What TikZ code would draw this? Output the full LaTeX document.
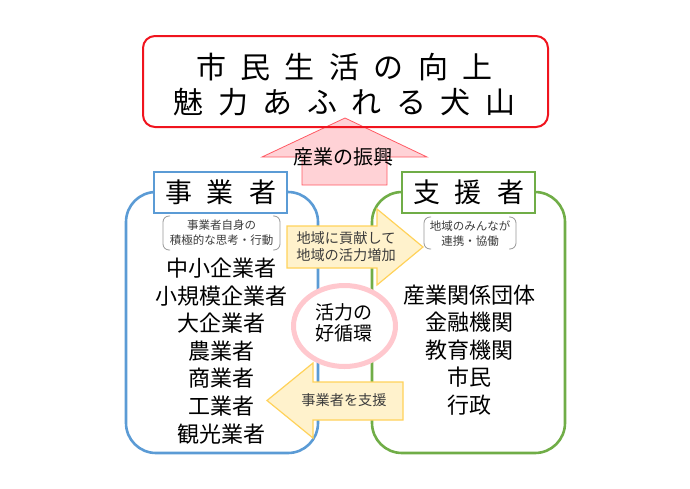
\documentclass[tikz,border=0pt]{standalone}
\usepackage{fontspec}
\setmainfont{Noto Sans CJK JP}
\usetikzlibrary{shapes.geometric}
\definecolor{tred}{RGB}{240,20,30}
\definecolor{pinkfill}{RGB}{255,210,214}
\definecolor{pinkline}{RGB}{255,90,100}
\definecolor{ringpink}{RGB}{255,200,206}
\definecolor{jblue}{RGB}{91,155,213}
\definecolor{sgreen}{RGB}{112,173,71}
\definecolor{yfill}{RGB}{255,242,204}
\definecolor{yline}{RGB}{255,210,90}
\definecolor{bracketgray}{RGB}{150,150,150}
\definecolor{softtext}{RGB}{60,60,60}
\newlength\spw
\def\spacedloop#1{\ifx\relax#1\else\makebox[\spw]{#1}\expandafter\spacedloop\fi}
\newcommand\spacedtext[2]{\setlength\spw{#1}\spacedloop#2\relax}
\tikzset{
  bigbox/.style={draw, line width=2.6pt, rounded corners=30pt, minimum width=#1, minimum height=261pt, inner sep=0pt},
  headbox/.style={draw, line width=2.4pt, fill=white, minimum width=133pt, minimum height=41pt, inner sep=0pt, font=\fontsize{27}{30}\selectfont},
  listtext/.style={align=center, inner sep=0pt, font=\fontsize{22}{27.6}\selectfont},
  smalltext/.style={align=center, inner sep=0pt, text=softtext, font=\fontsize{11.5}{14.5}\selectfont},
  arrowtext/.style={align=center, inner sep=0pt, text=softtext, font=\fontsize{14.2}{17}\selectfont},
  yarrow/.style={draw=yline, fill=yfill, line width=1.2pt, line join=miter},
  bracket/.style={draw=bracketgray, line width=0.8pt, rounded corners=6pt},
}
\begin{document}
\begin{tikzpicture}[x=1pt,y=-1pt]
\useasboundingbox (0,0) rectangle (690,488);
% large boxes
\node[bigbox=192pt, draw=jblue] (jbig) at (222,322.5) {};
\node[bigbox=193pt, draw=sgreen] (sbig) at (468.5,322.5) {};
% header boxes
\node[headbox, draw=jblue] (jhead) at (220.5,192.5) {\spacedtext{42pt}{事業者}};
\node[headbox, draw=sgreen] (shead) at (468.5,192.5) {\spacedtext{42pt}{支援者}};
% pink arrow
\draw[draw=pinkline, fill=pinkfill, line width=0.8pt] (345,118) -- (427,157) -- (387,157) -- (387,185) -- (302,185) -- (302,157) -- (262,157) -- cycle;
\node[inner sep=0pt, font=\fontsize{20}{24}\selectfont] (promo) at (343,157) {産業の振興};
% title box
\node[draw=tred, line width=2pt, rounded corners=12pt, minimum width=405pt, minimum height=91pt, inner sep=0pt] (title) at (345.5,81.5) {};
\node[align=center, inner sep=0pt, font=\fontsize{30}{35}\selectfont] (titletext) at (344.5,84.5) {\spacedtext{44.5pt}{市民生活の向上}\\\spacedtext{44.5pt}{魅力あふれる犬山}};
% brackets
\draw[bracket] (170,216) -- (163,216) -- (163,250) -- (170,250);
\draw[bracket] (273,216) -- (280,216) -- (280,250) -- (273,250);
\node[smalltext] (jnote) at (221.5,232.5) {事業者自身の\\積極的な思考・行動};
\draw[bracket] (431,217) -- (424,217) -- (424,249) -- (431,249);
\draw[bracket] (509,217) -- (516,217) -- (516,249) -- (509,249);
\node[smalltext] (snote) at (470,233.5) {地域のみんなが\\連携・協働};
% lists
\node[listtext] (jlist) at (221,351) {中小企業者\\小規模企業者\\大企業者\\農業者\\商業者\\工業者\\観光業者};
\node[listtext] (slist) at (469.5,350) {産業関係団体\\金融機関\\教育機関\\市民\\行政};
% ring
\node[ellipse, draw=ringpink, fill=white, line width=5pt, minimum width=102pt, minimum height=81pt, inner sep=0pt] (ring) at (344.5,326) {};
\node[align=center, inner sep=0pt, font=\fontsize{19}{21}\selectfont] (ringtext) at (344,322.5) {活力の\\好循環};
% yellow arrows
\draw[yarrow] (287,226) -- (377,226) -- (377,209) -- (423,247) -- (377,285) -- (377,268) -- (287,268) -- cycle;
\node[arrowtext] (contrib) at (346,246.5) {地域に貢献して\\地域の活力増加};
\draw[yarrow] (403,382) -- (313,382) -- (313,363) -- (267,400.5) -- (313,438) -- (313,420) -- (403,420) -- cycle;
\node[arrowtext] (support) at (344,400.5) {事業者を支援};
\end{tikzpicture}
\end{document}
